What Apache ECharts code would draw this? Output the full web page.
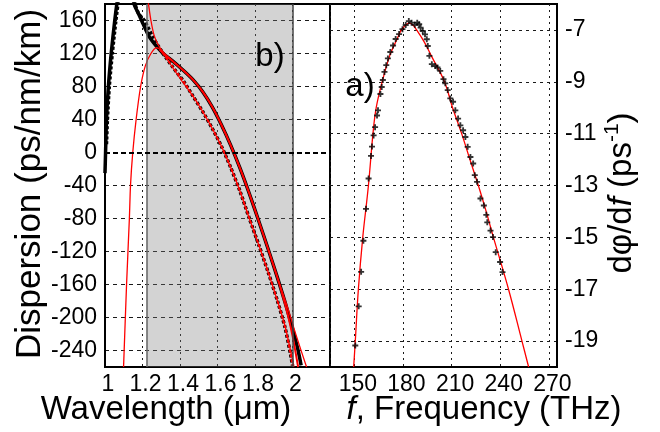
<!DOCTYPE html>
<html>
<head>
<meta charset="utf-8">
<script src="https://cdn.jsdelivr.net/npm/echarts@6/dist/echarts.min.js"></script>
<style>html,body{margin:0;padding:0;background:#fff;}#c{width:660px;height:432px;}</style>
</head>
<body>
<div id="c"></div>
<script>
// ---------- Panel b) Dispersion vs wavelength ----------
const solidWl = [1.000, 1.003, 1.008, 1.018, 1.033, 1.052, 1.063, 1.085, 1.11, 1.135, 1.155, 1.175, 1.195, 1.237, 1.31, 1.36, 1.42, 1.47, 1.52, 1.57, 1.62, 1.67, 1.72, 1.77, 1.82, 1.87, 1.92, 1.97, 2.01, 2.03, 2.046];
const solidD  = [-25, 0, 40, 80, 120, 160, 180, 215, 225, 205, 180, 170, 160, 140, 120, 111, 99, 88, 74, 56, 34, 9, -19, -50, -83, -117, -152, -189, -222, -240, -258];

const dottedWl = [1.008, 1.013, 1.023, 1.039, 1.058, 1.069, 1.09, 1.115, 1.14, 1.16, 1.18, 1.21, 1.255, 1.31, 1.36, 1.42, 1.47, 1.52, 1.57, 1.62, 1.67, 1.72, 1.77, 1.82, 1.87, 1.92, 1.96, 1.99, 2.0];
const dottedD  = [10, 40, 80, 120, 160, 180, 215, 222, 200, 180, 168, 160, 140, 120, 104, 86, 68, 50, 30, 8, -18, -47, -80, -112, -145, -180, -212, -245, -258];

const fitSolidWl = [1.30, 1.31, 1.36, 1.42, 1.47, 1.52, 1.57, 1.62, 1.67, 1.72, 1.77, 1.82, 1.87, 1.92, 1.97, 2.0, 2.03];
const fitSolidD  = [123, 120, 111, 99, 88, 74, 56, 34, 9, -19, -50, -83, -117, -152, -192, -222, -260];

const fitDottedWl = [1.29, 1.31, 1.36, 1.42, 1.47, 1.52, 1.57, 1.62, 1.67, 1.72, 1.77, 1.82, 1.87, 1.92, 1.96, 1.99, 2.0];
const fitDottedD  = [125, 120, 104, 86, 68, 50, 30, 8, -18, -47, -80, -112, -145, -180, -212, -245, -258];

const upperWl = [1.226, 1.232, 1.245, 1.262, 1.285, 1.31, 1.36, 1.42, 1.47, 1.52, 1.57, 1.62, 1.67, 1.72, 1.77, 1.82, 1.87, 1.92, 1.97, 2.02, 2.075];
const upperD  = [190, 180, 160, 142, 130, 122, 111, 99, 88, 74, 56, 34, 9, -19, -50, -83, -117, -152, -185, -222, -260];

const lowerWl = [1.099, 1.115, 1.13, 1.136, 1.148, 1.166, 1.19, 1.215, 1.245, 1.275, 1.30, 1.34, 1.40, 1.47, 1.52, 1.57, 1.62, 1.67, 1.72, 1.77, 1.82, 1.87, 1.92, 1.96, 2.008];
const lowerD  = [-260, -160, -80, -40, 0, 40, 80, 105, 120, 127, 124, 110, 90, 68, 50, 30, 8, -18, -47, -80, -112, -145, -180, -210, -260];

const shadeRange = [1.222, 2.0];

// ---------- Panel a) dphi/df vs frequency ----------
const measF = [150.6,152.7,154.2,155.6,157.2,158.8,160.3,160.9,161.9,162.8,164.0,164.6,166.1,166.9,167.6,168.6,169.7,170.7,172.2,173.9,175.5,177.6,179.7,181.7,183.6,185.3,187.3,188.8,190.0,190.9,192.2,193.6,194.7,195.3,196.3,197.8,199.9,201.3,203.0,205.0,206.1,207.6,209.2,210.9,212.3,214.0,215.4,217.1,218.5,219.9,221.6,223.3,224.3,225.7,227.8,229.9,231.4,232.0,234.0,235.5,237.2,239.9,241.4];
const measY = [-19.17,-17.66,-16.33,-15.13,-13.9,-12.73,-11.86,-11.5,-11.07,-10.75,-10.3,-10.1,-9.47,-9.2,-8.93,-8.62,-8.36,-8.1,-7.85,-7.6,-7.35,-7.16,-6.97,-6.81,-6.66,-6.72,-6.8,-6.72,-6.78,-6.91,-7.04,-7.17,-7.36,-7.62,-8.0,-8.32,-8.39,-8.45,-8.58,-8.9,-9.06,-9.32,-9.64,-9.77,-10.1,-10.42,-10.68,-10.87,-11.13,-11.51,-11.9,-12.15,-12.6,-12.86,-13.5,-13.77,-14.13,-14.42,-14.74,-14.99,-15.57,-15.95,-16.34];

const fitF = [149.6,150.6,152.5,155.2,158.7,161.5,163.5,167.2,171.8,176,179,181.5,183.5,186,188.4,193,197.5,205.6,210.6,216.2,221.3,226.5,231.3,235.8,245.1,253.4,257.5];
const fitY = [-20,-19,-17,-15,-13,-11,-10,-9,-8,-7.4,-7,-6.82,-6.74,-6.8,-7,-7.45,-8,-9,-10,-11,-12,-13,-14,-15,-17,-19,-20];

const zip = (a, b) => a.map((v, i) => [v, b[i]]);

const FONT = 'Liberation Sans';
const tickLabel = { color: '#000', fontFamily: FONT, fontSize: 23 };
const GRID_C = '#1a1a1a';
const RED = '#ff0000';

const chart = echarts.init(document.getElementById('c'), null, { renderer: 'canvas' });

const plusPath = 'path://M-1.1,-3.6H1.1V-1.1H3.6V1.1H1.1V3.6H-1.1V1.1H-3.6V-1.1H-1.1Z';

const option = {
  animation: false,
  backgroundColor: '#fff',
  grid: [
    { left: 105, top: 4, width: 225, height: 363, show: true, borderColor: '#000', borderWidth: 2, backgroundColor: '#fff' },
    { left: 330, top: 4, width: 227, height: 363, show: true, borderColor: '#000', borderWidth: 2, backgroundColor: '#fff' }
  ],
  xAxis: [
    {
      gridIndex: 0, type: 'value', min: 1, max: 2.2, interval: 0.2,
      axisLine: { show: true, onZero: false, lineStyle: { color: '#000', width: 2 } },
      axisTick: { show: false },
      axisLabel: Object.assign({}, tickLabel, { margin: 6, padding: [0, 0, 0, 6],
        formatter: v => (v > 2.1 ? '' : String(Math.round(v * 10) / 10)) }),
      splitLine: { show: true, lineStyle: { color: GRID_C, type: [2, 4], width: 1 } }
    },
    {
      gridIndex: 1, type: 'value', min: 135, max: 275, interval: 15,
      axisLine: { show: true, onZero: false, lineStyle: { color: '#000', width: 2 } },
      axisTick: { show: false },
      axisLabel: Object.assign({}, tickLabel, { margin: 6, padding: [0, 0, 0, 7],
        formatter: v => ((Math.round(v) % 30 === 0 && v >= 150 && v <= 270) ? String(Math.round(v)) : '') }),
      splitLine: { show: true, lineStyle: { color: ['rgba(0,0,0,0)', GRID_C], type: [2, 4], width: 1 } }
    }
  ],
  yAxis: [
    {
      gridIndex: 0, type: 'value', min: -260, max: 180, interval: 20,
      axisLine: { show: true, onZero: false, lineStyle: { color: '#000', width: 2 } },
      axisTick: { show: false },
      axisLabel: Object.assign({}, tickLabel, { margin: 8,
        formatter: v => (Math.round(v) % 40 === 0 ? String(Math.round(v)) : '') }),
      splitLine: { show: true, lineStyle: { color: ['rgba(0,0,0,0)', GRID_C], type: [4, 4], width: 1 } }
    },
    {
      gridIndex: 1, type: 'value', position: 'right', min: -20, max: -6, interval: 1,
      axisLine: { show: true, onZero: false, lineStyle: { color: '#000', width: 2 } },
      axisTick: { show: false },
      axisLabel: Object.assign({}, tickLabel, { margin: 8,
        formatter: v => (Math.abs(Math.round(v)) % 2 === 1 ? String(Math.round(v)) : '') }),
      splitLine: { show: true, lineStyle: { color: ['rgba(0,0,0,0)', GRID_C], type: [3, 4], width: 1 } }
    }
  ],
  series: [
    { // shaded range
      type: 'line', xAxisIndex: 0, yAxisIndex: 0, data: [], z: 1, silent: true,
      markArea: { silent: true, itemStyle: { color: 'rgba(120,120,120,0.33)' },
        data: [[{ xAxis: shadeRange[0] }, { xAxis: shadeRange[1] }]] }
    },
    { // shade edges + zero line
      type: 'line', xAxisIndex: 0, yAxisIndex: 0, data: [], z: 2, silent: true,
      markLine: { silent: true, symbol: ['none', 'none'], label: { show: false },
        data: [
          { xAxis: shadeRange[0], lineStyle: { color: '#666', width: 1.5, type: 'solid' } },
          { xAxis: shadeRange[1], lineStyle: { color: '#444', width: 1.5, type: 'solid' } },
          { yAxis: 0, lineStyle: { color: '#000', width: 2, type: [5, 3] } }
        ] }
    },
    { type: 'line', xAxisIndex: 0, yAxisIndex: 0, z: 3, data: zip(solidWl, solidD), symbol: 'none', smooth: 0.25,
      lineStyle: { color: '#000', width: 3.5 } },
    { type: 'line', xAxisIndex: 0, yAxisIndex: 0, z: 3, data: zip(dottedWl, dottedD), symbol: 'none', smooth: 0.25,
      lineStyle: { color: '#000', width: 3.5, type: [3, 2] } },
    { type: 'line', xAxisIndex: 0, yAxisIndex: 0, z: 4, data: zip(lowerWl, lowerD), symbol: 'none', smooth: 0.25,
      lineStyle: { color: RED, width: 1.3 } },
    { type: 'line', xAxisIndex: 0, yAxisIndex: 0, z: 4, data: zip(upperWl, upperD), symbol: 'none', smooth: 0.25,
      lineStyle: { color: RED, width: 1.3 } },
    { type: 'line', xAxisIndex: 0, yAxisIndex: 0, z: 4, data: zip(fitSolidWl, fitSolidD), symbol: 'none', smooth: 0.25,
      lineStyle: { color: RED, width: 2 } },
    { type: 'line', xAxisIndex: 0, yAxisIndex: 0, z: 4, data: zip(fitDottedWl, fitDottedD), symbol: 'none', smooth: 0.25,
      lineStyle: { color: RED, width: 2, type: [3, 2] } },
    // panel a)
    { type: 'line', xAxisIndex: 1, yAxisIndex: 1, z: 3, data: zip(fitF, fitY), symbol: 'none', smooth: 0.4,
      lineStyle: { color: RED, width: 1.3 } },
    { type: 'scatter', xAxisIndex: 1, yAxisIndex: 1, z: 4, data: zip(measF, measY), symbol: plusPath, symbolSize: 6,
      itemStyle: { color: '#000' } }
  ],
  graphic: [
    { type: 'text', x: 30, y: 184, rotation: Math.PI / 2, z: 10,
      style: { text: 'Dispersion (ps/nm/km)', fontFamily: FONT, fontSize: 35, fill: '#000', align: 'center', verticalAlign: 'middle' } },
    { type: 'text', x: 166, y: 410, z: 10,
      style: { text: 'Wavelength (μm)', fontFamily: FONT, fontSize: 33, fill: '#000', align: 'center', verticalAlign: 'middle' } },
    { type: 'text', x: 484, y: 410, z: 10,
      style: { text: '{it|f}, Frequency (THz)', fontFamily: FONT, fontSize: 33, fill: '#000', align: 'center', verticalAlign: 'middle',
        rich: { it: { fontFamily: FONT, fontSize: 33, fontStyle: 'italic', fill: '#000' } } } },
    { type: 'text', x: 622, y: 193, rotation: Math.PI / 2, z: 10,
      style: { text: 'dφ/d{it|f} (ps{sup|-1})', fontFamily: FONT, fontSize: 33, fill: '#000', align: 'center', verticalAlign: 'middle', lineHeight: 40,
        rich: { it: { fontFamily: FONT, fontSize: 33, fontStyle: 'italic', fill: '#000', lineHeight: 40 },
                sup: { fontFamily: FONT, fontSize: 21, fill: '#000', verticalAlign: 'top', lineHeight: 21 } } } },
    { type: 'text', x: 270, y: 57, z: 10,
      style: { text: 'b)', fontFamily: FONT, fontSize: 33, fill: '#000', align: 'center', verticalAlign: 'middle' } },
    { type: 'text', x: 360, y: 87, z: 10,
      style: { text: 'a)', fontFamily: FONT, fontSize: 33, fill: '#000', align: 'center', verticalAlign: 'middle' } }
  ]
};
chart.setOption(option);
</script>
</body>
</html>
